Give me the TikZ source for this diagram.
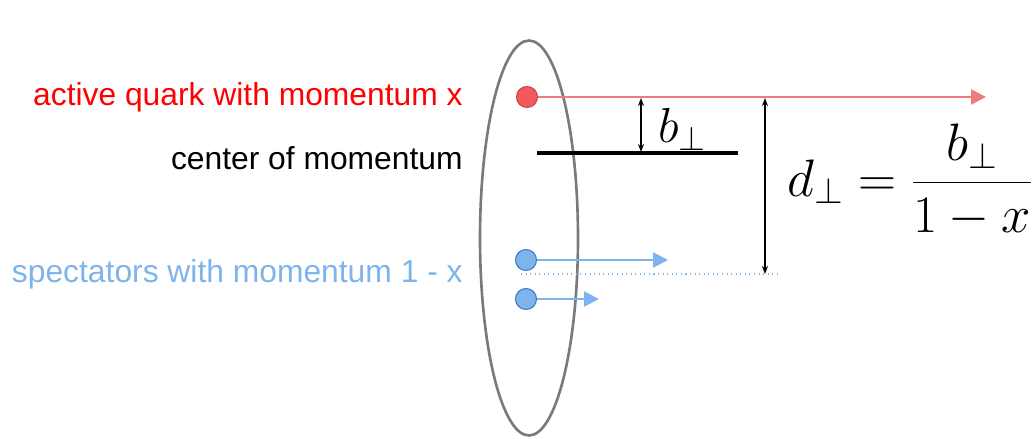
\RequirePackage{fix-cm}
\documentclass[tikz,border=0pt]{standalone}
\usepackage{fontspec}
\usepackage{xcolor}
\usetikzlibrary{arrows.meta, positioning, shapes.geometric}
\newfontfamily\labelfont{Liberation Sans}
\definecolor{QuarkRed}{HTML}{F2585E}
\definecolor{QuarkLine}{HTML}{F07A7E}
\definecolor{TextRed}{HTML}{FF0000}
\definecolor{SpecBlue}{HTML}{7EB4EC}
\definecolor{SpecEdge}{HTML}{3C78C8}
\definecolor{HadronGray}{HTML}{7A7A7A}
\tikzset{
    dot/.style={
        circle,
        draw=#1,
        line width=0.6pt,
        minimum size=0.42cm,
        inner sep=0pt
    },
    label/.style={
        font=\labelfont\fontsize{18.1}{20}\selectfont,
        anchor=east,
        inner sep=0pt
    },
    momarrow/.style={
        -{Triangle[length=0.3cm, width=0.3cm]},
        line width=1.5pt,
        #1
    },
    dist/.style={
        {Stealth[length=0.16cm, width=0.12cm]}-{Stealth[length=0.16cm, width=0.12cm]},
        line width=0.8pt,
        black
    }
}
\begin{document}
\begin{tikzpicture}[x=0.02cm, y=-0.02cm]
        \useasboundingbox (0,0) rectangle (1035,439);

        % Hadron
        \node[ellipse, draw=HadronGray, line width=1.5pt, minimum width=1.96cm, minimum height=7.9cm] (hadron) at (529,238) {};

        % Active quark
        \node[dot=QuarkRed!80!black, fill=QuarkRed] (quark) at (527,97) {};
        \coordinate (quarkEnd) at (986,97);
        \draw[momarrow=QuarkLine] (quark.east) -- (quarkEnd);
        \node[label, text=TextRed] (quarkLabel) at (463,97) {active quark with momentum x};

        % Center of momentum
        \coordinate (cmLeft) at (537,153);
        \coordinate (cmRight) at (738,153);
        \draw[line width=2.6pt] (cmLeft) -- (cmRight);
        \node[label, text=black] (cmLabel) at (463,158) {center of momentum};

        % Spectators
        \node[dot=SpecEdge, fill=SpecBlue] (specA) at (526,260) {};
        \node[dot=SpecEdge, fill=SpecBlue] (specB) at (526,299) {};
        \coordinate (specAEnd) at (668,260);
        \coordinate (specBEnd) at (599,299);
        \draw[momarrow=SpecBlue] (specA.east) -- (specAEnd);
        \draw[momarrow=SpecBlue] (specB.east) -- (specBEnd);
        \node[label, text=SpecBlue] (specLabel) at (463,274) {spectators with momentum 1 - x};
        \coordinate (specLeft) at (521,274);
        \coordinate (specRight) at (780,274);
        \draw[SpecBlue, line width=0.6pt, dotted] (specLeft) -- (specRight);

        % Distances
        \coordinate (bTop) at (641,98);
        \coordinate (bBot) at (641,152);
        \draw[dist] (bTop) -- (bBot);
        \node[anchor=base west, inner sep=0pt, font=\fontsize{28}{33}\selectfont] (bLabel) at (658,143) {$b_\perp$};
        \coordinate (dTop) at (765,98);
        \coordinate (dBot) at (765,274);
        \draw[dist] (dTop) -- (dBot);
        \node[anchor=base west, inner sep=0pt, font=\fontsize{30}{36}\selectfont] (dLabel) at (787,196) {$\displaystyle d_\perp = \frac{b_\perp}{1-x}$};
    \end{tikzpicture}
\end{document}
